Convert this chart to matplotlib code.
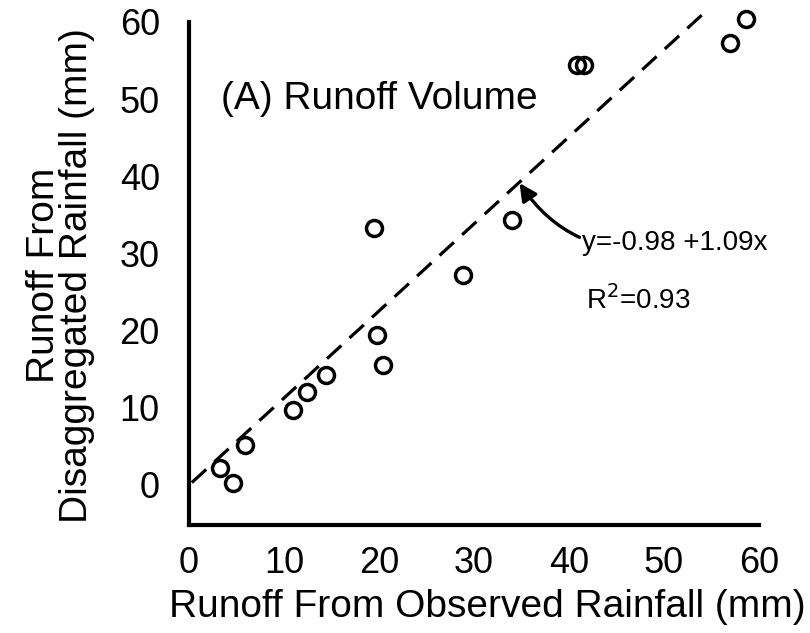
import matplotlib
matplotlib.use("Agg")
import matplotlib.pyplot as plt

plt.rcParams["font.family"] = ["Liberation Sans", "DejaVu Sans"]
plt.rcParams["lines.scale_dashes"] = False

# observed vs disaggregated runoff (mm)
observed = [3.3, 4.6, 5.9, 10.9, 12.4, 14.4, 19.8, 20.4, 19.5, 28.8, 34.0,
            40.8, 41.6, 57.0, 58.6]
disaggregated = [2.2, 0.3, 5.2, 9.7, 12.0, 14.2, 19.4, 15.5, 33.3, 27.2, 34.3,
                 54.4, 54.4, 57.3, 60.4]

# dashed fit line as drawn
fit_x = [0.3, 54.8]
fit_y = [0.3, 61.8]

ticks = [0, 10, 20, 30, 40, 50, 60]

fig = plt.figure(figsize=(8.1, 6.33), dpi=100)
ax = fig.add_axes([0.2333, 0.1706, 0.7037, 0.8254])

ax.plot(fit_x, fit_y, color="black", lw=2.3, ls="--", dashes=(14, 8))
ax.plot(observed, disaggregated, ls="none", marker="o", ms=11.5,
        mfc="none", mec="black", mew=2.5)

ax.set_xlim(0, 60)
ax.set_ylim(-5.2, 62.5)
ax.set_xticks(ticks)
ax.set_yticks(ticks)
ax.tick_params(length=0, labelsize=26)
ax.tick_params(axis="y", pad=21)
ax.tick_params(axis="x", pad=15)

for s in ["top", "right"]:
    ax.spines[s].set_visible(False)
for s in ["left", "bottom"]:
    ax.spines[s].set_linewidth(3)
ax.spines["left"].set_bounds(-5.2, 60)

ax.set_xlabel("Runoff From Observed Rainfall (mm)", fontsize=28)
ax.xaxis.set_label_coords(0.523, -0.122)
ax.set_ylabel("Runoff From\nDisaggregated Rainfall (mm)", fontsize=28,
              linespacing=0.9)
ax.yaxis.set_label_coords(-0.165, 0.478)

ax.text(3.4, 50.0, "(A) Runoff Volume", fontsize=28, va="center", ha="left")

ax.annotate("y=-0.98 +1.09x", xy=(34.8, 39.1), xytext=(41.4, 31.3),
            fontsize=20, va="center", ha="left",
            arrowprops=dict(arrowstyle="-|>", color="black", lw=2.4,
                            mutation_scale=26,
                            connectionstyle="arc3,rad=-0.35",
                            shrinkA=0, shrinkB=0))
ax.text(41.8, 24.0, "R$^2$=0.93", fontsize=20, va="center", ha="left")

fig.savefig("out.png", dpi=100)
